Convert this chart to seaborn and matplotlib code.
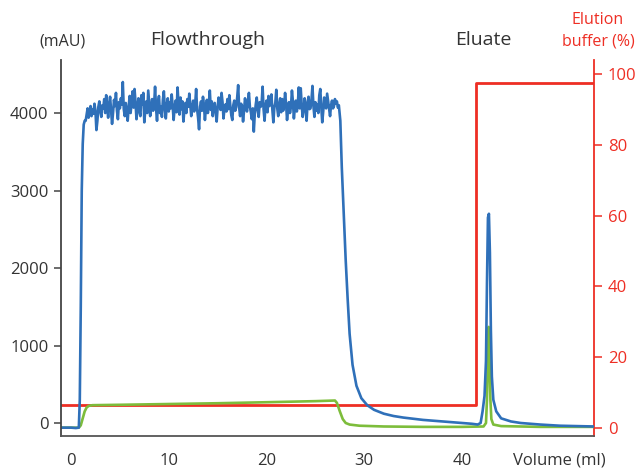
import matplotlib
matplotlib.use("Agg")
import numpy as np
import pandas as pd
import seaborn as sns
import matplotlib.pyplot as plt

# === 1. Data ===
# UV absorbance (mAU) - baseline and loading rise
rise_volume = [-1.0, 0.0, 0.5, 0.8, 0.9, 1.0, 1.1, 1.2, 1.3, 1.4]
rise_mau = [-60, -60, -65, -60, 300, 1500, 3000, 3600, 3850, 3900]

# noisy flowthrough plateau, sampled every 0.1 ml from 1.5 to 27.4 ml
plateau_volume = list(np.round(np.arange(1.5, 27.45, 0.1), 1))
plateau_mau = [
    3900, 3980, 4060, 3940, 4010, 4090, 3960, 4050, 3990, 4120,
    4030, 3780, 3900, 4080, 4150, 4020, 3950, 4100, 4060, 4180,
    4000, 4230, 4090, 3940, 4120, 4210, 4030, 3860, 4000, 4170,
    4090, 4260, 4030, 3920, 4140, 4060, 4190, 4110, 4400, 4050,
    3960, 4130, 4010, 3900, 4080, 4220, 4000, 4150, 4280, 4070,
    4310, 4140, 3920, 4060, 4190, 4020, 3960, 4230, 4110, 4260,
    3880, 4040, 4150, 4000, 4290, 4120, 3960, 4090, 4180, 4030,
    4100, 4340, 4060, 3900, 4140, 4220, 4000, 4080, 3950, 4170,
    4280, 4050, 3930, 4110, 4190, 4020, 4140, 4060, 4240, 4090,
    3910, 4070, 4160, 4010, 4330, 4120, 3980, 4200, 4050, 4150,
    3890, 4040, 4130, 4000, 4180, 4080, 4250, 4110, 3960, 4070,
    4160, 4020, 4100, 4310, 4050, 3940, 3790, 4080, 4150, 4030,
    4210, 4100, 3910, 4060, 4170, 4000, 4120, 4290, 4040, 4150,
    3960, 4090, 4130, 4010, 3890, 4070, 4200, 4110, 4040, 4260,
    4140, 3930, 4060, 4110, 4020, 4180, 4050, 4230, 4090, 3970,
    3910, 4100, 4160, 4030, 4080, 4200, 4360, 4070, 3960, 4120,
    4090, 3890, 4030, 4190, 4110, 4020, 4150, 4260, 4080, 4010,
    3920, 4060, 3760, 3990, 4110, 4200, 4040, 3950, 4140, 4080,
    4120, 4340, 4050, 3900, 4100, 4160, 4010, 4220, 4090, 4150,
    4240, 4040, 3880, 4070, 4130, 4300, 4060, 3960, 4110, 4190,
    4010, 4180, 4030, 4090, 4260, 4120, 3910, 4050, 4140, 4000,
    4080, 4290, 4150, 3930, 4070, 4160, 4020, 4110, 4330, 4060,
    4320, 4100, 3950, 4040, 4190, 4080, 3900, 4130, 4210, 4050,
    4060, 4170, 4350, 4090, 3950, 4140, 4030, 4110, 4000, 4230,
    4310, 4080, 3880, 4020, 4200, 4120, 4060, 4250, 4150, 4040,
    3960, 4100, 4160, 4060, 4090, 4180, 4120, 4150, 4070, 4100,
]

# wash-out tail and eluate peak
washout_volume = [27.55, 27.7, 27.9, 28.1, 28.3, 28.5, 28.8, 29.2, 29.7, 30.3,
                  31.0, 32.0, 33.0, 34.0, 35.0, 36.0, 37.0, 38.0, 39.0, 40.0,
                  41.0, 41.6, 41.9, 42.1, 42.3, 42.45, 42.55, 42.65, 42.75, 42.85,
                  42.95, 43.05, 43.2, 43.5, 44.0, 45.0, 46.0, 48.0, 50.0, 53.5]
washout_mau = [3900, 3300, 2700, 2100, 1600, 1150, 750, 480, 320, 230,
               170, 120, 90, 70, 55, 40, 30, 20, 10, 0,
               -10, -20, 0, 150, 350, 800, 1800, 2650, 2700, 2200,
               1200, 600, 300, 150, 60, 20, 0, -20, -35, -45]

# Second trace (green)
cond_volume = [-1.0, 0.8, 1.0, 1.2, 1.4, 1.6, 1.8, 2.2, 5.0, 10.0,
               15.0, 20.0, 25.0, 27.0, 27.2, 27.5, 27.8, 28.1, 28.5, 29.5,
               32.0, 36.0, 40.0, 42.2, 42.45, 42.55, 42.65, 42.72, 42.8, 42.9,
               43.0, 43.2, 44.0, 48.0, 53.5]
cond_mau = [-60, -60, -30, 60, 150, 200, 220, 230, 235, 245,
            255, 268, 282, 290, 260, 150, 50, 0, -20, -35,
            -45, -50, -50, -45, 0, 300, 900, 1240, 900, 300,
            50, -20, -40, -50, -50]

# Elution buffer step (%)
buffer_volume = [-1.0, 41.45, 41.45, 53.5]
buffer_pct = [6.5, 6.5, 97.5, 97.5]

x_ticks = [0, 10, 20, 30, 40, 50]
x_tick_labels = ["0", "10", "20", "30", "40", "Volume (ml)"]
left_ticks = [0, 1000, 2000, 3000, 4000]
right_ticks = [0, 20, 40, 60, 80, 100]

uv = pd.DataFrame({"volume": rise_volume + plateau_volume + washout_volume,
                   "mAU": rise_mau + plateau_mau + washout_mau})
cond = pd.DataFrame({"volume": cond_volume, "mAU": cond_mau})
buf = pd.DataFrame({"volume": buffer_volume, "pct": buffer_pct})

# === 2. Style ===
sns.set_style("white")
plt.rcParams["font.family"] = ["Open Sans", "DejaVu Sans"]

BLUE = "#2f70b9"
GREEN = "#7dbd3b"
RED = "#ee2e24"
TEXT = "#333333"

fig = plt.figure(figsize=(6.41, 4.70), dpi=100)
ax = fig.add_axes([0.0952, 0.0723, 0.8315, 0.8000])
ax2 = ax.twinx()

# red step underneath the traces
ax2.set_zorder(0)
ax.set_zorder(1)
ax.patch.set_visible(False)

sns.lineplot(data=buf, x="volume", y="pct", ax=ax2, color=RED, lw=2.0,
             estimator=None, sort=False)
sns.lineplot(data=cond, x="volume", y="mAU", ax=ax, color=GREEN, lw=1.9,
             estimator=None, sort=False)
sns.lineplot(data=uv, x="volume", y="mAU", ax=ax, color=BLUE, lw=1.9,
             estimator=None, sort=False)

# === 3. Axes ===
ax.set_xlim(-1.02, 53.5)
ax.set_ylim(-168, 4684)
ax2.set_ylim(-2.26, 103.95)

ax.set_xticks(x_ticks)
ax.set_xticklabels(x_tick_labels)
ax.set_yticks(left_ticks)
ax2.set_yticks(right_ticks)
ax.set_xlabel("")
ax.set_ylabel("")
ax2.set_xlabel("")
ax2.set_ylabel("")

for a in (ax, ax2):
    a.spines["top"].set_visible(False)
ax.spines["right"].set_visible(False)
ax2.spines["left"].set_visible(False)
ax2.spines["bottom"].set_visible(False)
ax.spines["left"].set_color("#444444")
ax.spines["left"].set_linewidth(1.3)
ax.spines["bottom"].set_color("#555555")
ax.spines["bottom"].set_linewidth(1.3)
ax2.spines["right"].set_color(RED)
ax2.spines["right"].set_linewidth(1.3)

ax.tick_params(axis="both", direction="out", length=5, width=1.1,
               color="#444444", labelcolor=TEXT, labelsize=12, pad=4)
ax.tick_params(axis="x", pad=7)
ax2.tick_params(axis="y", direction="out", length=6, width=1.1,
                color=RED, labelcolor=RED, labelsize=12, pad=4)

# === 4. Header labels ===
fig.text(0.097, 0.911, "(mAU)", ha="center", va="center", fontsize=11.5, color=TEXT)
fig.text(0.3245, 0.915, "Flowthrough", ha="center", va="center", fontsize=14, color=TEXT)
fig.text(0.7535, 0.915, "Eluate", ha="center", va="center", fontsize=14, color=TEXT)
fig.text(0.933, 0.957, "Elution", ha="center", va="center", fontsize=11.5, color=RED)
fig.text(0.933, 0.911, "buffer (%)", ha="center", va="center", fontsize=11.5, color=RED)

fig.savefig("out.png", dpi=100)
